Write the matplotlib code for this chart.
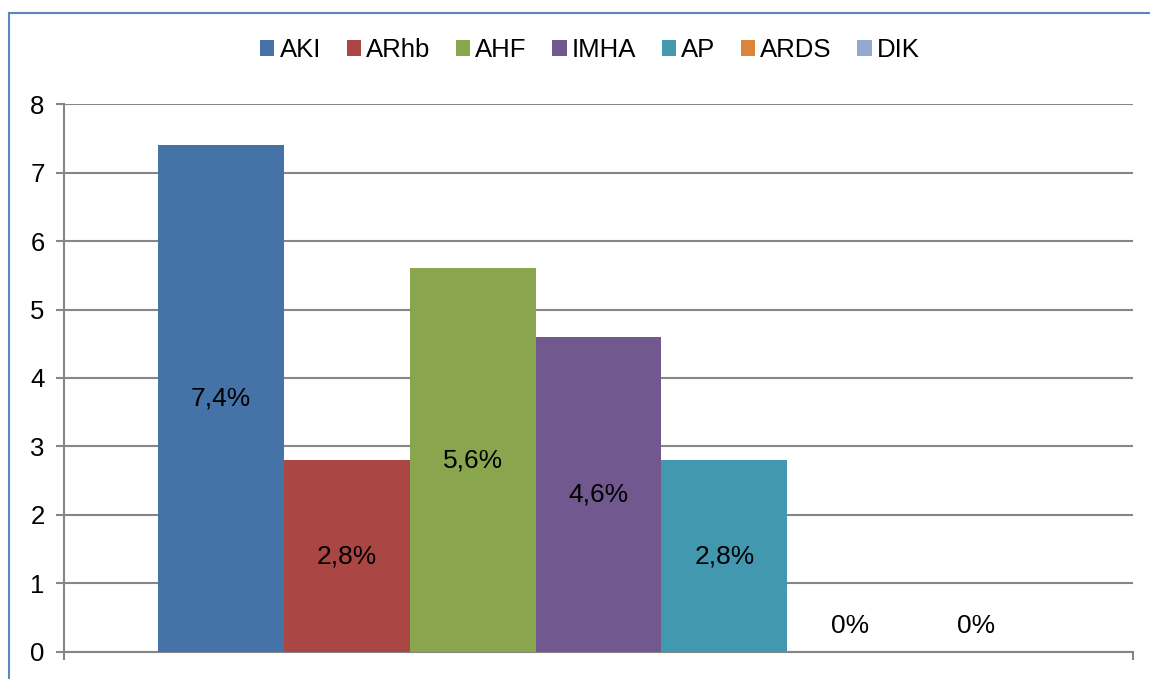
import matplotlib
matplotlib.use("Agg")
import matplotlib.pyplot as plt
from matplotlib.lines import Line2D

plt.rcParams['font.family'] = ['Liberation Sans', 'DejaVu Sans']

# complication rates per diagnosis
series = ['AKI', 'ARhb', 'AHF', 'IMHA', 'AP', 'ARDS', 'DIK']
values = [7.4, 2.8, 5.6, 4.6, 2.8, 0, 0]
colors = ['#4572A7', '#AA4643', '#89A54E', '#71588F', '#4198AF', '#DB843D', '#93A9CF']
yticks = [0, 1, 2, 3, 4, 5, 6, 7, 8]

fig = plt.figure(figsize=(11.5, 6.79), dpi=100)
ax = fig.add_axes([0.0557, 0.0398, 0.9295, 0.807])

# one category, bars side by side with 150% gap width
n = len(series)
w = 1 / (n + 1.5)
start = 0.75 * w
for i, (name, v, c) in enumerate(zip(series, values, colors)):
    x = start + i * w + w / 2
    ax.bar(x, v, width=w, color=c, label=name, zorder=3)
    txt = ('%g' % v).replace('.', ',') + '%'
    if v > 0:
        ax.text(x, v / 2, txt, ha='center', va='center', fontsize=19, zorder=4)
    else:
        ax.annotate(txt, (x, 0), xytext=(0, 19), textcoords='offset points',
                    ha='center', va='center', fontsize=19, zorder=4)

ax.set_xlim(0, 1)
ax.set_ylim(0, 8)
ax.set_yticks(yticks)
ax.set_yticklabels([str(t) for t in yticks], fontsize=18.5)
ax.set_xticks([0, 1])
ax.set_xticklabels(['', ''])
ax.tick_params(axis='both', direction='out', length=6, width=1.5, color='#868686', pad=8)
ax.grid(axis='y', color='#868686', linewidth=1.5, zorder=0)
for s in ['top', 'right']:
    ax.spines[s].set_visible(False)
for s in ['left', 'bottom']:
    ax.spines[s].set_color('#868686')
    ax.spines[s].set_linewidth(1.5)

fig.legend(loc='center', bbox_to_anchor=(0.513, 0.926), ncol=n, frameon=False,
           fontsize=18.5, handlelength=0.55, handleheight=0.55, handletextpad=0.2,
           columnspacing=1.0)

# chart area border (top and left edges)
fig.add_artist(Line2D([9 / 1150, 1], [1 - 13 / 679, 1 - 13 / 679], color='#5B87C0', linewidth=1.5))
fig.add_artist(Line2D([9 / 1150, 9 / 1150], [0, 1 - 13 / 679], color='#5B87C0', linewidth=1.5))

fig.savefig('out.png', dpi=100)
